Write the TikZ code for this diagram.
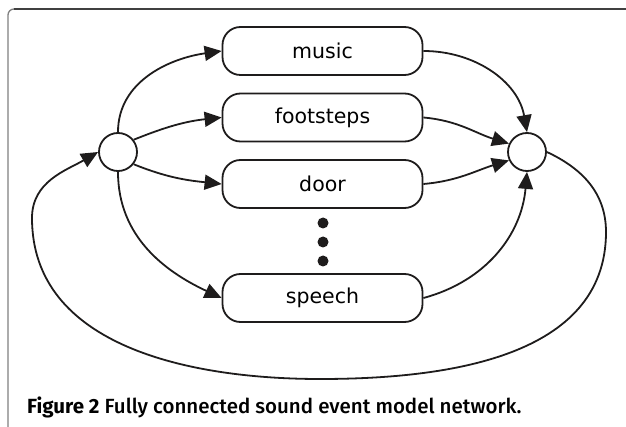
\documentclass[tikz,border=0pt]{standalone}
\usepackage{fontspec}
\setmainfont{DejaVu Sans}
\newfontfamily\capfont{Fira Sans}[UprightFont=* Medium, BoldFont=* Bold]
\usetikzlibrary{arrows.meta}
\definecolor{ink}{HTML}{1E1C1C}
\begin{document}
\begin{tikzpicture}[x=1pt,y=1pt,
  state/.style={circle, draw=ink, line width=1.8pt, minimum size=38pt, inner sep=0pt},
  event/.style={rectangle, rounded corners=18pt, draw=ink, line width=1.8pt,
     minimum width=200pt, minimum height=48pt, inner sep=0pt, font=\fontsize{20.5}{24}\selectfont},
  arr/.style={-{Triangle[length=17pt,width=15pt]}, line width=1.8pt, draw=ink},
  dot/.style={circle, fill=ink, draw=none, minimum size=11pt, inner sep=0pt}]
\useasboundingbox (0,0) rectangle (626,-427);
% frame
\draw[line width=1.3pt, draw=black!50] (8,-427) -- (8,-15) arc[start angle=180,end angle=90,radius=6pt];
\draw[line width=1.3pt, draw=black!75] (14,-9) -- (626,-9);
% nodes
\node[state] (L) at (118,-152) {};
\node[state] (R) at (527,-152) {};
\node[event] (music) at (322.5,-51) {music};
\node[event] (foot) at (322.5,-117.5) {footsteps};
\node[event] (door) at (322.5,-184) {door};
\node[event] (speech) at (322.5,-298) {speech};
\node[dot] (d1) at (323,-223) {};
\node[dot] (d2) at (323,-242) {};
\node[dot] (d3) at (323,-261) {};
% edges in
\draw[arr] (L.north) to[out=90,in=188] (music.west);
\draw[arr] (L.38) to[out=22,in=186] (foot.west);
\draw[arr] (L.-38) to[out=-22,in=174] (door.west);
\draw[arr] (L.south) to[out=-90,in=155] (speech.west);
% edges out
\draw[arr] (music.east) to[out=0,in=100] (R.north);
\draw[arr] (foot.east) to[out=-5,in=163] (R.155);
\draw[arr] (door.east) to[out=5,in=197] (R.-155);
\draw[arr] (speech.east) to[out=15,in=-95] (R.south);
% loop back
\coordinate (c1) at (606,-232);
\coordinate (c2) at (320,-379);
\coordinate (c3) at (32,-218);
\draw[arr] (R.east) to[out=-25,in=90] (c1) to[out=-90,in=0] (c2) to[out=180,in=-90] (c3) to[out=90,in=210] (L.west);
% caption
\node[anchor=base west, inner sep=0pt, font=\capfont\fontsize{20.5}{24}\selectfont] (cap) at (27,-413)
  {\textbf{Figure 2} Fully connected sound event model network.};
\end{tikzpicture}
\end{document}
